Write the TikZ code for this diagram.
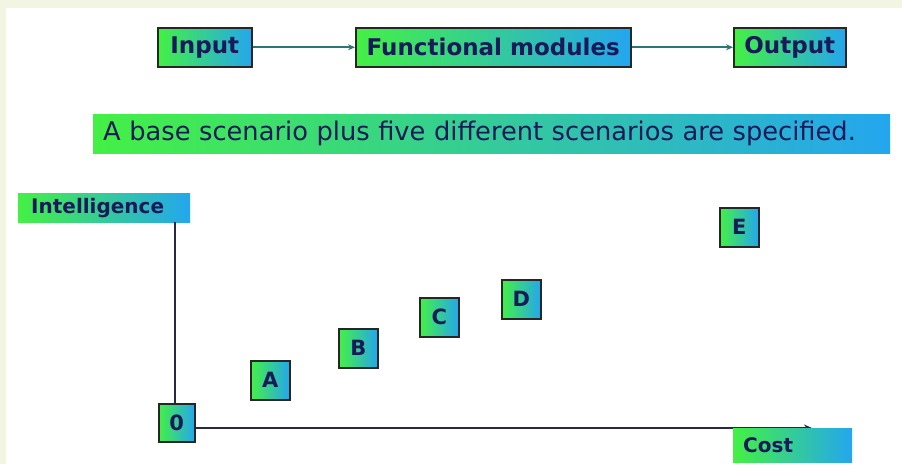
\documentclass[tikz,border=0pt]{standalone}
\usepackage{fontspec}
\setmainfont{DejaVu Sans}
\usetikzlibrary{arrows.meta}
\definecolor{pagebg}{RGB}{242,245,226}
\definecolor{gleft}{RGB}{68,240,68}
\definecolor{gright}{RGB}{36,166,238}
\definecolor{ink}{RGB}{26,26,90}
\definecolor{flowarrow}{RGB}{46,118,118}
\definecolor{axis}{RGB}{40,40,70}
\tikzset{
  gradbox/.style={left color=gleft, right color=gright, shading angle=90,
    text=ink, font=\bfseries, inner sep=0pt, anchor=north west},
  framed/.style={gradbox, draw=black!85, line width=1.5pt},
  flow/.style={draw=flowarrow, line width=1.9pt, -{Stealth[length=7pt,width=6pt]}},
  axisline/.style={draw=axis, line width=2pt},
  chain/.style={framed, minimum height=39pt, font=\bfseries\fontsize{23}{25}\selectfont},
  axislabel/.style={gradbox, align=left, font=\bfseries\fontsize{20}{22}\selectfont},
  pt/.style={framed, minimum width=39pt, minimum height=39pt, font=\bfseries\fontsize{21}{23}\selectfont},
}
\begin{document}
\begin{tikzpicture}[x=1pt,y=-1pt]
  \useasboundingbox (0,0) rectangle (902,464);
  \fill[pagebg] (0,0) rectangle (902,464);
  \fill[white] (6,8) rectangle (902,464);

  % processing chain
  \node[chain, minimum width=94pt] (in) at (157,27) {Input};
  \node[chain, minimum width=275pt] (fm) at (355,27) {Functional modules};
  \node[chain, minimum width=112pt] (out) at (733,27) {Output};
  \draw[flow] (in.east) -- (fm.west);
  \draw[flow] (fm.east) -- (out.west);

  % banner
  \node[gradbox, font=\fontsize{25.7}{28}\selectfont, minimum width=797pt, minimum height=39pt,
        text width=777pt, align=left] (banner) at (93,114)
        {A base scenario plus five different scenarios are specified.};

  % vertical axis label
  \node[axislabel, minimum width=172pt, minimum height=29pt, text width=146pt] (intel) at (18,193) {Intelligence};

  % scenario points
  \node[pt, minimum width=36pt, minimum height=38pt] (o) at (158,403) {0};
  \node[pt] (a) at (250,360) {A};
  \node[pt] (b) at (338,328) {B};
  \node[pt] (c) at (419,297) {C};
  \node[pt] (d) at (501,279) {D};
  \node[pt] (e) at (719,207) {E};

  % axes
  \coordinate (xend) at (812,428);
  \draw[axisline] (intel.south -| 175,0) -- (o.north -| 175,0);
  \draw[axisline, -{Stealth[length=8pt,width=7pt]}] (o.east |- 0,428) -- (xend);

  % horizontal axis label, laid over the arrow
  \node[axislabel, minimum width=119pt, minimum height=34pt, text width=99pt] (cost) at (733,428) {Cost};
\end{tikzpicture}
\end{document}
